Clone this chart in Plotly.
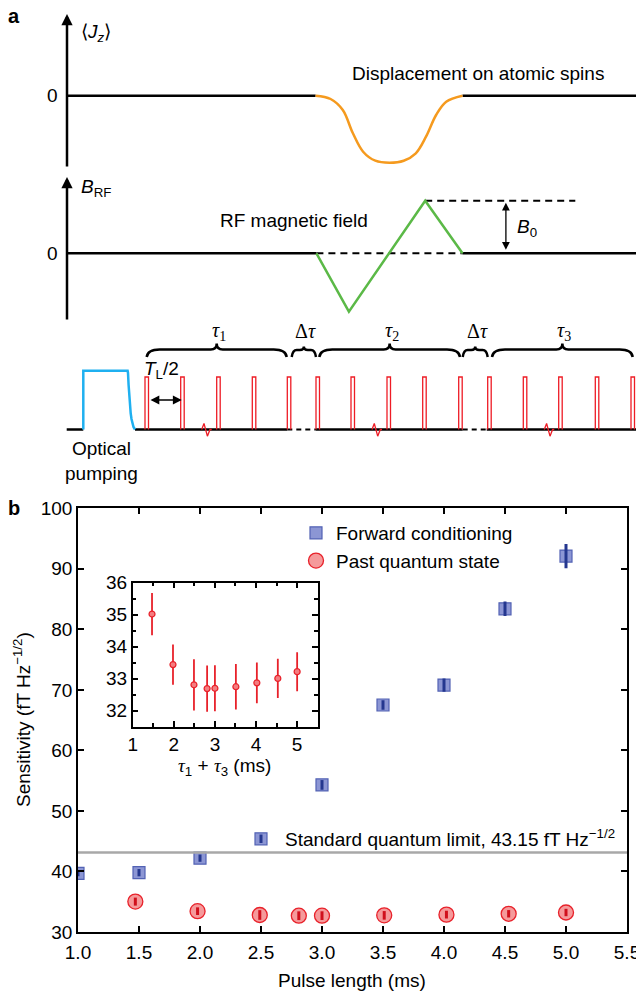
import plotly.graph_objects as go

W, H = 636, 992
SANS = "Liberation Sans, Arial, Helvetica, sans-serif"
SERIF = "Liberation Serif, Times New Roman, serif"
FS = 19  # body text size

# ---------------- panel b: sensitivity versus pulse length ----------------
pulse_len = [1.0, 1.5, 2.0, 2.5, 3.0, 3.5, 4.0, 4.5, 5.0]
forward = [39.7, 39.8, 42.2, 45.4, 54.3, 67.5, 70.8, 83.4, 92.1]
forward_err = [0.5, 0.6, 0.6, 0.7, 0.8, 0.8, 1.1, 1.2, 2.0]

pqs_len = [1.47, 1.98, 2.49, 2.81, 3.0, 3.51, 4.02, 4.53, 5.0]
pqs = [35.02, 33.44, 32.81, 32.69, 32.70, 32.75, 32.87, 33.01, 33.22]
pqs_err = [0.66, 0.63, 0.80, 0.72, 0.72, 0.71, 0.64, 0.61, 0.61]

sql_value = 43.15
x_ticks = [1.0, 1.5, 2.0, 2.5, 3.0, 3.5, 4.0, 4.5, 5.0, 5.5]
y_ticks = [30, 40, 50, 60, 70, 80, 90, 100]
inset_x_ticks = [1, 2, 3, 4, 5]
inset_y_ticks = [32, 33, 34, 35, 36]

# ---------------- panel a: schematic of the sequence (schematic units) ----------------
t_start, t_end = 67, 636
jz_zero, rf_zero, seq_base = 95.7, 253.3, 429.5

# displacement of the collective spin
jz_t = [315.6, 330.6, 342.8, 352.9, 363.1, 375.3, 389.5, 403.7, 415.8, 426.0, 436.1, 446.2, 462.5]
jz_v = [95.7, 99.0, 110.0, 133.3, 151.7, 160.7, 162.7, 160.7, 153.3, 136.7, 115.0, 101.7, 95.7]

# RF magnetic field (triangular waveform)
rf_t = [316.4, 348.9, 425.2, 462.5]
rf_v = [253.3, 311.7, 200.7, 253.3]
rf_peak = 200.7
rf_peak_ref_end = 575.3

# optical pumping pulse: sharp rise, exponential-like fall
pump_t = [83.3, 83.3, 127.6, 128.0, 128.6, 129.3, 130.0, 130.7, 131.5, 132.3, 133.5, 135.0]
pump_v = [429.5, 370.7, 370.7, 373.0, 385.0, 396.7, 406.0, 413.3, 419.0, 423.3, 427.0, 429.5]

# stroboscopic probe pulses (left edges), pulse width and top level
probe_left = [145, 180.7, 216.7, 252.3, 287.3,
              316, 351, 387, 422.7, 458.7,
              487.7, 523.3, 558.7, 595.3, 631]
probe_width = 3.5
probe_top = 377

# noise marks on the sequence baseline
noise_t = [206.7, 377, 549.3]
noise_dx = [-5, -2.7, 0.7, 3.3, 5]
noise_dy = [0, -6, 6.7, 0, 0]

# baseline pieces: solid probing windows and dashed gaps
base_solid = [(66.7, 83.3), (135, 287.3), (316, 462.7), (486.7, 636)]
base_dashed = [(287.3, 316), (462.7, 486.7)]

# braces over the probing windows
brace_x0 = [146.7, 291.7, 319.3, 462.7, 492]
brace_x1 = [286.7, 316.0, 460, 487.7, 632.7]
brace_lbl = ["<i>τ</i><sub>1</sub>", "Δ<i>τ</i>", "<i>τ</i><sub>2</sub>", "Δ<i>τ</i>", "<i>τ</i><sub>3</sub>"]

fig = go.Figure()


def line3(x, y, color, width, dash="solid", shape="linear"):
    fig.add_trace(go.Scatter(
        x=x, y=y, mode="lines",
        line=dict(color=color, width=width, dash=dash, shape=shape),
        xaxis="x3", yaxis="y3", showlegend=False, hoverinfo="skip"))


# J_z row
line3([t_start, jz_t[0]], [jz_zero, jz_zero], "black", 2.5)
line3([jz_t[-1], t_end], [jz_zero, jz_zero], "black", 2.5)
line3(jz_t, jz_v, "#f59a1e", 2.5, shape="spline")

# B_RF row
line3([t_start, rf_t[0]], [rf_zero, rf_zero], "black", 2.5)
line3([rf_t[-1], t_end], [rf_zero, rf_zero], "black", 2.5)
line3([rf_t[0], rf_t[-1]], [rf_zero, rf_zero], "black", 2, dash="7px,5px")
line3([rf_t[2], rf_peak_ref_end], [rf_peak, rf_peak], "black", 2, dash="7px,5px")
line3(rf_t, rf_v, "#5bb947", 2.5)

# sequence row
for a, b in base_solid:
    line3([a, b], [seq_base, seq_base], "black", 2.5)
for a, b in base_dashed:
    line3([a, b], [seq_base, seq_base], "black", 2, dash="5px,4px")
line3(pump_t, pump_v, "#1fb0f0", 2.5)

px, py = [], []
for l in probe_left:
    px += [l, l, l + probe_width, l + probe_width, None]
    py += [seq_base, probe_top, probe_top, seq_base, None]
line3(px, py, "#ee1c25", 1.3)

nx, ny = [], []
for c in noise_t:
    nx += [c + d for d in noise_dx] + [None]
    ny += [seq_base + d for d in noise_dy] + [None]
line3(nx, ny, "#ee1c25", 1.3)

shapes = []
for x0, x1 in zip(brace_x0, brace_x1):
    xm = (x0 + x1) / 2
    small = (x1 - x0) < 40
    r = 5 if small else 13
    rt = 4 if small else 6
    y_end, y_arm, y_tip = 357, (350 if small else 349.5), (346.5 if small else 343.5)
    path = (f"M {x0},{y_end} Q {x0 + 1},{y_arm} {x0 + r},{y_arm} L {xm - rt},{y_arm} "
            f"Q {xm},{y_arm} {xm},{y_tip} Q {xm},{y_arm} {xm + rt},{y_arm} "
            f"L {x1 - r},{y_arm} Q {x1 - 1},{y_arm} {x1},{y_end}")
    shapes.append(dict(type="path", path=path, xref="x3", yref="y3",
                       line=dict(color="black", width=2.5)))

# ---------------- panel b traces ----------------
fig.add_trace(go.Scatter(
    x=pulse_len, y=forward, mode="markers", name="Forward conditioning",
    marker=dict(symbol="square", size=12, color="rgba(120,132,205,0.85)",
                line=dict(color="#5262b4", width=1.2)),
    xaxis="x", yaxis="y", hoverinfo="skip"))
fig.add_trace(go.Scatter(
    x=pulse_len, y=forward, mode="markers", showlegend=False,
    marker=dict(size=1, color="rgba(0,0,0,0)"),
    error_y=dict(type="data", array=forward_err, color="#24378f", thickness=3, width=0),
    xaxis="x", yaxis="y", hoverinfo="skip"))
fig.add_trace(go.Scatter(
    x=pqs_len, y=pqs, mode="markers", name="Past quantum state",
    marker=dict(symbol="circle", size=15, color="#f59a9b",
                line=dict(color="#e8212a", width=1.3)),
    xaxis="x", yaxis="y", hoverinfo="skip"))
fig.add_trace(go.Scatter(
    x=pqs_len, y=pqs, mode="markers", showlegend=False,
    marker=dict(size=1, color="rgba(0,0,0,0)"),
    error_y=dict(type="data", array=pqs_err, color="#d0101c", thickness=3, width=0),
    xaxis="x", yaxis="y", hoverinfo="skip"))
fig.add_trace(go.Scatter(
    x=[x_ticks[0], x_ticks[-1]], y=[sql_value, sql_value], mode="lines",
    line=dict(color="#a8a8a8", width=2.5), showlegend=False,
    xaxis="x", yaxis="y", hoverinfo="skip"))

# inset
fig.add_trace(go.Scatter(
    x=pqs_len, y=pqs, mode="markers", showlegend=False,
    marker=dict(symbol="circle", size=6, color="#f47d80",
                line=dict(color="#e8212a", width=1.2)),
    error_y=dict(type="data", array=pqs_err, color="#e8212a", thickness=1.8, width=0),
    xaxis="x2", yaxis="y2", hoverinfo="skip"))

tickfont = dict(family=SANS, size=FS, color="black")
frame = dict(showline=True, linecolor="black", linewidth=1.5, mirror="ticks",
             ticks="inside", ticklen=6, tickwidth=1.5, tickcolor="black",
             showgrid=False, zeroline=False, automargin=False, fixedrange=True,
             tickfont=tickfont, ticklabeloverflow="allow")

fig.update_layout(
    width=W, height=H,
    margin=dict(l=0, r=0, t=0, b=0),
    paper_bgcolor="white", plot_bgcolor="white",
    font=dict(family=SANS, size=FS, color="black"),
    xaxis=dict(domain=[78 / W, 627 / W], range=[x_ticks[0], x_ticks[-1]],
               tickvals=x_ticks, ticktext=[f"{v:.1f}" for v in x_ticks],
               ticklabelstandoff=2, anchor="y", **frame),
    yaxis=dict(domain=[1 - 932 / H, 1 - 508.3 / H], range=[y_ticks[0], y_ticks[-1]],
               tickvals=y_ticks, anchor="x", **frame),
    xaxis2=dict(domain=[132.7 / W, 317.7 / W], range=[1, 5.5], tickvals=inset_x_ticks,
                minor=dict(dtick=0.5, tick0=1, ticks="inside", ticklen=4, tickcolor="black"),
                anchor="y2", **frame),
    yaxis2=dict(domain=[1 - 726.7 / H, 1 - 582.7 / H], range=[31.5, 36], tickvals=inset_y_ticks,
                minor=dict(dtick=0.5, tick0=32, ticks="inside", ticklen=4, tickcolor="black"),
                anchor="x2", **frame),
    xaxis3=dict(domain=[0, 1], range=[0, W], visible=False, fixedrange=True, anchor="y3"),
    yaxis3=dict(domain=[1 - 490 / H, 1], range=[490, 0], visible=False, fixedrange=True, anchor="x3"),
    legend=dict(x=296 / W, y=1 - 514 / H, xanchor="left", yanchor="top",
                bgcolor="rgba(0,0,0,0)", font=dict(family=SANS, size=FS),
                itemwidth=30, tracegroupgap=0),
    shapes=shapes,
)

ann = []


def txt3(x, y, text, size=FS, family=SANS, xanchor="center", **kw):
    ann.append(dict(x=x, y=y, xref="x3", yref="y3", text=text, showarrow=False,
                    xanchor=xanchor, yanchor="middle",
                    font=dict(family=family, size=size, color="black"), **kw))


def txtp(xpx, ypx, text, size=FS, xanchor="center", **kw):
    ann.append(dict(x=xpx / W, y=1 - ypx / H, xref="paper", yref="paper", text=text,
                    showarrow=False, xanchor=xanchor, yanchor="middle",
                    font=dict(family=SANS, size=size, color="black"), **kw))


def arrow3(x, y, ax, ay, width, both=False, size=1.0):
    ann.append(dict(x=x, y=y, ax=ax, ay=ay, xref="x3", yref="y3", axref="x3", ayref="y3",
                    text="", showarrow=True, arrowhead=2, arrowsize=size, arrowwidth=width,
                    arrowcolor="black", arrowside="end+start" if both else "end"))


# panel letters
txt3(6, 16, "<b>a</b>", size=20, xanchor="left")
txtp(6, 508, "<b>b</b>", size=20, xanchor="left")

# axes of the schematic rows
arrow3(t_start, 14, t_start, 168, 2.5, size=0.9)
arrow3(t_start, 177, t_start, 321, 2.5, size=0.9)
txt3(79, 33, "⟨<i>J</i><sub><i>z</i></sub>⟩", xanchor="left")
txt3(79, 188, "<i>B</i><sub>RF</sub>", xanchor="left")
txt3(52, jz_zero, "0")
txt3(52, rf_zero, "0")
txt3(478, 73, "Displacement on atomic spins")
txt3(294, 220, "RF magnetic field")
arrow3(505.9, rf_peak + 2, 505.9, rf_zero - 2, 1.3, both=True, size=1.2)
txt3(515, 228, "<i>B</i><sub>0</sub>", xanchor="left")

# sequence annotations
for x0, x1, lbl in zip(brace_x0, brace_x1, brace_lbl):
    txt3((x0 + x1) / 2 + 2, 331, lbl, size=20, family=SERIF)
txt3(161, 370, "<i>T</i><sub>L</sub>/2")
arrow3(probe_left[1] + 1, 400, probe_left[0] + 4, 400, 1.6, both=True, size=1.1)
txt3(101, 461, "Optical<br>pumping")

# panel b labels
txtp(22, 720, "Sensitivity (fT Hz<sup>−1/2</sup>)", textangle=-90)
txtp(352, 980, "Pulse length (ms)")
txtp(225, 767,
     f"<span style='font-family:{SERIF}'><i>τ</i></span><sub>1</sub> + "
     f"<span style='font-family:{SERIF}'><i>τ</i></span><sub>3</sub> (ms)")
ann.append(dict(x=2.68, y=45.5, xref="x", yref="y", xanchor="left", yanchor="middle",
                text=f"Standard quantum limit, {sql_value} fT Hz<sup>−1/2</sup>",
                showarrow=False, font=dict(family=SANS, size=FS, color="black")))

fig.update_layout(annotations=ann)
fig.write_html("out.html")
